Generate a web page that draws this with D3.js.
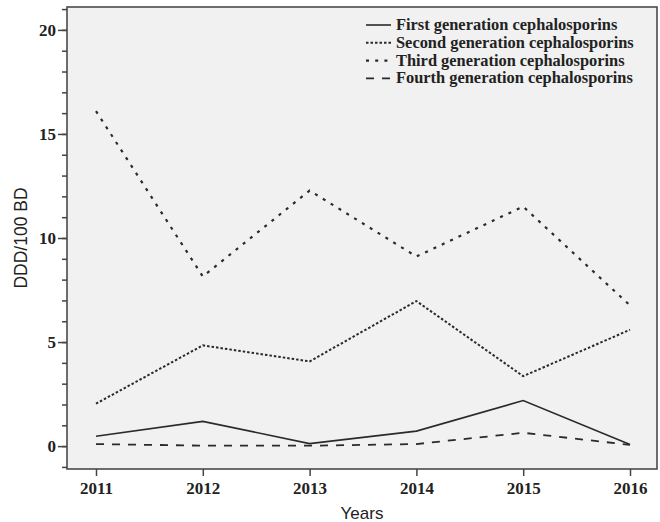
<!DOCTYPE html>
<html>
<head>
<meta charset="utf-8">
<script src="https://cdn.jsdelivr.net/npm/d3@7"></script>
<style>
  body { margin: 0; background: #fff; }
</style>
</head>
<body>
<script>
const years = [2011, 2012, 2013, 2014, 2015, 2016];
const firstGen  = [0.47, 1.19, 0.12, 0.72, 2.19, 0.08];
const secondGen = [2.04, 4.84, 4.07, 6.97, 3.36, 5.59];
const thirdGen  = [16.1, 8.15, 12.28, 9.11, 11.51, 6.76];
const fourthGen = [0.1, 0.02, 0.02, 0.1, 0.64, 0.06];
const seriesNames = ["First generation cephalosporins", "Second generation cephalosporins",
                     "Third generation cephalosporins", "Fourth generation cephalosporins"];
const yTicks = [0, 5, 10, 15, 20];

function draw(){
        const width = 660, height = 522;
        const left = 67, right = 657, top = 7, bottom = 469;

        const svg = d3.select('body')
                .append('svg')
                .attr('width', width)
                .attr('height', height);

        const x = d3.scaleLinear()
                .domain([2011, 2016])
                .range([96, 630]);

        const y = d3.scaleLinear()
                .domain([-1.1, 21.1])
                .range([bottom, top]);

        // plot background + frame
        svg.append('rect')
        .attr('x', left).attr('y', top)
        .attr('width', right-left).attr('height', bottom-top)
        .attr('fill', '#f1f1f1')
        .attr('stroke', '#4a4a4a')
        .attr('stroke-width', 1.6);

        // minor ticks on y
        svg.append('g')
        .attr('transform', "translate(" + left + ",0)")
        .call(d3.axisLeft(y).tickValues(d3.range(-1, 22)).tickSize(5).tickFormat(''))
        .call(g => g.select('.domain').remove());

        const yAxis = svg.append('g')
        .attr('transform', "translate(" + left + ",0)")
        .call(d3.axisLeft(y).tickValues(yTicks).tickSize(9).tickPadding(2).tickFormat(d3.format('d')));
        yAxis.select('.domain').remove();

        const xAxis = svg.append('g')
        .attr('transform', "translate(0," + bottom + ")")
        .call(d3.axisBottom(x).tickValues(years).tickSize(7).tickPadding(6).tickFormat(d3.format('d')));
        xAxis.select('.domain').remove();

        svg.selectAll('.tick line')
        .attr('stroke', '#444')
        .attr('stroke-width', 1.5);
        svg.selectAll('.tick text')
        .attr('font-family', '"Liberation Serif", "Times New Roman", serif')
        .attr('font-weight', 'bold')
        .attr('font-size', 17)
        .attr('fill', '#222');

        // axis titles
        svg.append('text')
        .attr('x', (left+right)/2).attr('y', 519)
        .attr('text-anchor', 'middle')
        .attr('font-family', '"Liberation Sans", Arial, sans-serif')
        .attr('font-size', 17)
        .attr('fill', '#222')
        .text('Years');

        svg.append('text')
        .attr('transform', 'translate(27,238) rotate(-90)')
        .attr('text-anchor', 'middle')
        .attr('font-family', '"Liberation Sans", Arial, sans-serif')
        .attr('font-size', 17.5)
        .attr('fill', '#222')
        .text('DDD/100 BD');

        const series = [
                {name: seriesNames[0], values: firstGen,  dash: null,    w: 1.6},
                {name: seriesNames[1], values: secondGen, dash: '2.5,2', w: 2},
                {name: seriesNames[2], values: thirdGen,  dash: '3,6.2', w: 2.2},
                {name: seriesNames[3], values: fourthGen, dash: '8,8',   w: 1.8}
        ];

        const line = d3.line()
                .x((d, i) => x(years[i]))
                .y(d => y(d));

        svg.selectAll('path.series')
        .data(series)
        .enter()
        .append('path')
        .attr('class', 'series')
        .attr('d', d => line(d.values))
        .attr('fill', 'none')
        .attr('stroke', '#2a2a2a')
        .attr('stroke-width', d => d.w)
        .attr('stroke-dasharray', d => d.dash);

        // legend
        const legend = svg.selectAll('g.legend')
        .data(series)
        .enter()
        .append('g')
        .attr('class', 'legend')
        .attr('transform', (d, i) => "translate(366," + (25 + i*17.8) + ")");

        legend.append('line')
        .attr('x1', 0).attr('x2', 25)
        .attr('stroke', '#2a2a2a')
        .attr('stroke-width', d => d.w)
        .attr('stroke-dasharray', d => d.dash);

        legend.append('text')
        .attr('x', 30).attr('y', 5)
        .attr('font-family', '"Liberation Serif", "Times New Roman", serif')
        .attr('font-weight', 'bold')
        .attr('font-size', 16.4)
        .attr('fill', '#222')
        .text(d => d.name);
}

draw();
</script>
</body>
</html>
